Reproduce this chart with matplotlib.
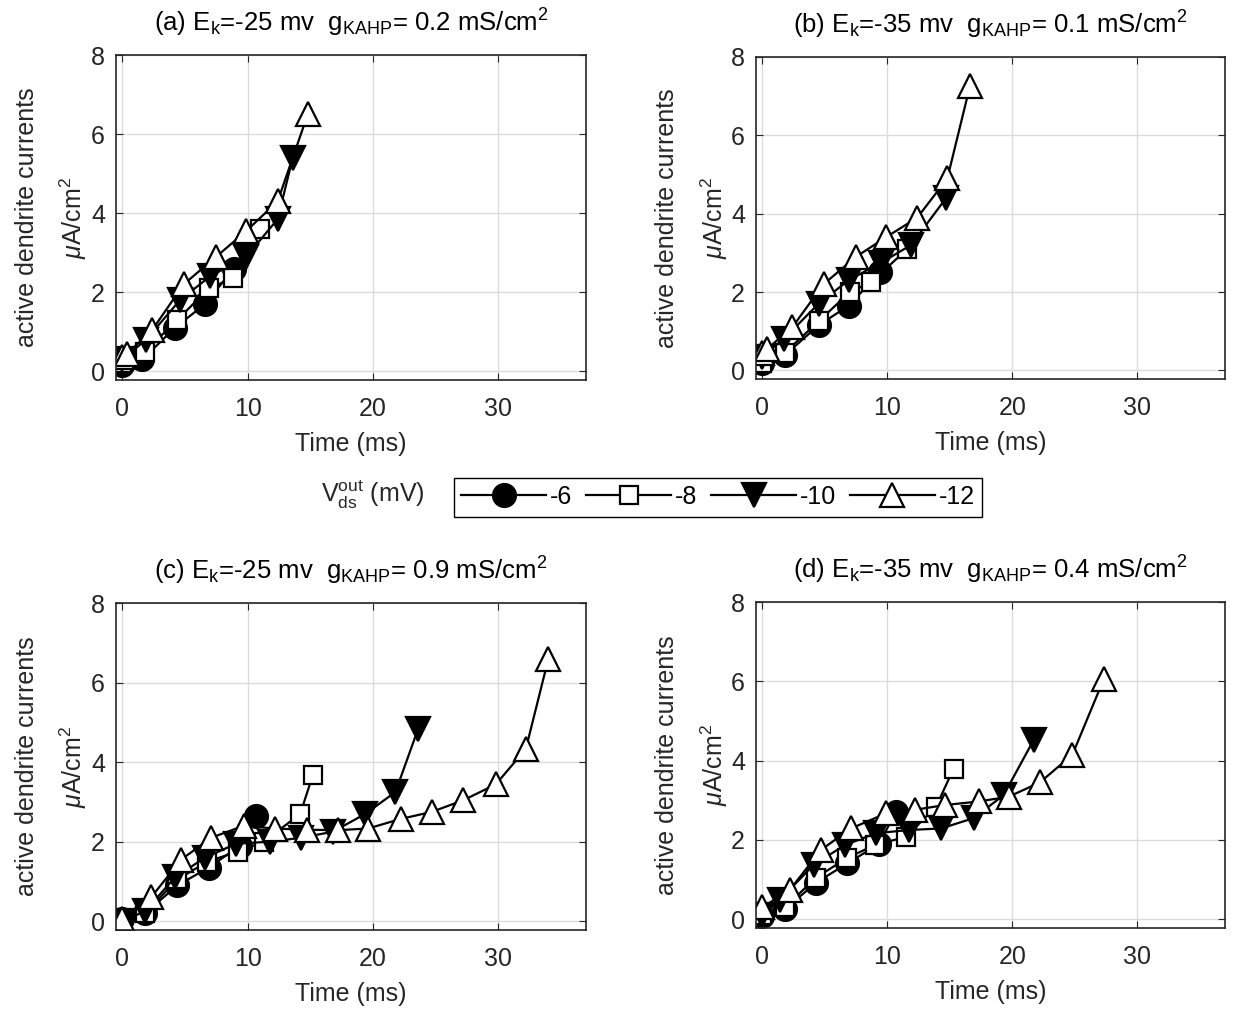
import numpy as np
import matplotlib.pyplot as plt

plt.rcParams['font.family'] = ['Liberation Sans', 'DejaVu Sans']
plt.rcParams['mathtext.fontset'] = 'custom'
plt.rcParams['mathtext.rm'] = 'Liberation Sans'
plt.rcParams['mathtext.it'] = 'Liberation Sans:italic'

# Vds_out levels (mV)
levels = ['-6', '-8', '-10', '-12']

# panel (a)  Ek=-25, gKAHP=0.2
a_t = [[0, 1.6, 4.2, 6.6, 8.9],
       [0, 1.8, 4.4, 6.9, 8.8, 11.0],
       [0, 1.9, 4.6, 7.0, 9.9, 12.4, 13.6],
       [0, 0.4, 2.4, 4.9, 7.5, 9.9, 12.4, 14.8]]
a_v = [[0.15, 0.3, 1.1, 1.7, 2.6],
       [0.2, 0.5, 1.3, 2.1, 2.35, 3.6],
       [0.3, 0.8, 1.8, 2.4, 2.9, 3.85, 5.4],
       [0.35, 0.45, 1.05, 2.2, 2.9, 3.55, 4.3, 6.5]]

# panel (b)  Ek=-35, gKAHP=0.1
b_t = [[0, 1.85, 4.5, 6.9, 9.4],
       [0, 1.8, 4.5, 7.0, 8.7, 11.6],
       [0, 1.7, 4.5, 6.9, 9.5, 11.9, 14.7],
       [0, 0.4, 2.4, 4.9, 7.5, 9.9, 12.4, 14.8, 16.6]]
b_v = [[0.2, 0.4, 1.15, 1.65, 2.5],
       [0.2, 0.45, 1.25, 2.0, 2.25, 3.1],
       [0.35, 0.8, 1.7, 2.3, 2.75, 3.2, 4.4],
       [0.45, 0.55, 1.1, 2.2, 2.9, 3.4, 3.9, 4.9, 7.25]]

# panel (c)  Ek=-25, gKAHP=0.9
c_t = [[0, 1.8, 4.4, 6.9, 9.4, 10.7],
       [0, 1.8, 4.4, 6.8, 9.2, 11.3, 14.2, 15.2],
       [0, 1.8, 4.2, 6.6, 9.1, 11.8, 14.3, 16.8, 19.4, 21.8, 23.6],
       [0, 2.3, 4.7, 7.1, 9.7, 12.2, 14.7, 17.2, 19.6, 22.2, 24.7, 27.2, 29.8, 32.2, 34.0]]
c_v = [[0.05, 0.2, 0.9, 1.35, 1.9, 2.65],
       [0.05, 0.2, 1.05, 1.5, 1.75, 2.0, 2.7, 3.67],
       [0.0, 0.25, 1.1, 1.6, 1.95, 2.0, 2.1, 2.25, 2.7, 3.25, 4.83],
       [0.05, 0.6, 1.55, 2.1, 2.4, 2.33, 2.3, 2.29, 2.33, 2.57, 2.75, 3.04, 3.44, 4.33, 6.6]]

# panel (d)  Ek=-35, gKAHP=0.4
d_t = [[0, 1.8, 4.3, 6.8, 9.3, 10.7],
       [0, 1.8, 4.3, 6.8, 9.0, 11.5, 13.9, 15.3],
       [0, 1.4, 4.1, 6.6, 9.1, 11.7, 14.3, 16.9, 19.3, 21.7],
       [0, 2.2, 4.7, 7.1, 9.9, 12.2, 14.6, 17.3, 19.7, 22.2, 24.8, 27.3]]
d_v = [[0.07, 0.25, 0.92, 1.41, 1.89, 2.71],
       [0.1, 0.3, 1.05, 1.55, 1.87, 2.08, 2.84, 3.8],
       [0.1, 0.49, 1.37, 1.87, 2.17, 2.25, 2.29, 2.55, 3.13, 4.52],
       [0.3, 0.74, 1.75, 2.29, 2.67, 2.76, 2.88, 2.97, 3.09, 3.45, 4.15, 6.05]]

titles = [r'(a) E$_\mathrm{k}$=-25 mv  g$_\mathrm{KAHP}$= 0.2 mS/cm$^2$',
          r'(b) E$_\mathrm{k}$=-35 mv  g$_\mathrm{KAHP}$= 0.1 mS/cm$^2$',
          r'(c) E$_\mathrm{k}$=-25 mv  g$_\mathrm{KAHP}$= 0.9 mS/cm$^2$',
          r'(d) E$_\mathrm{k}$=-35 mv  g$_\mathrm{KAHP}$= 0.4 mS/cm$^2$']

markers = ['o', 's', 'v', '^']
faces = ['black', 'white', 'black', 'white']
sizes = [16.5, 13.5, 17, 17]

W, H = 1250, 1017
fig = plt.figure(figsize=(W / 100, H / 100), dpi=100)

# boxes in pixels: left, top, right, bottom
boxes = [(116, 55, 586, 380), (756, 57, 1225, 379),
         (116, 603, 586, 930), (756, 602, 1225, 928)]
panels = [(a_t, a_v), (b_t, b_v), (c_t, c_v), (d_t, d_v)]
gray = '#262626'

for k in range(4):
    l, t, r, b = boxes[k]
    ax = fig.add_axes([l / W, 1 - b / H, (r - l) / W, (b - t) / H])
    ts, vs = panels[k]
    for i in range(4):
        ax.plot(ts[i], vs[i], color='black', lw=1.6, marker=markers[i],
                markersize=sizes[i], markerfacecolor=faces[i],
                markeredgecolor='black', markeredgewidth=1.6, label=levels[i])
    ax.set_xlim(-0.5, 37)
    ax.set_ylim(-0.22, 8)
    ax.set_xticks([0, 10, 20, 30])
    ax.set_yticks([0, 2, 4, 6, 8])
    ax.grid(True, color='#dcdcdc', lw=1)
    ax.set_axisbelow(True)
    ax.tick_params(direction='in', top=True, right=True, labelsize=18,
                   colors=gray, length=5)
    ax.tick_params(axis='x', pad=12)
    ax.tick_params(axis='y', pad=8)
    for s in ax.spines.values():
        s.set_color(gray)
        s.set_linewidth(1.2)
    ax.set_title(titles[k], fontsize=18.5, pad=17)
    ax.set_xlabel('Time (ms)', fontsize=18, color=gray, labelpad=8)
    ax.set_ylabel('active dendrite currents\n$\\mu$A/cm$^2$', fontsize=18,
                  color=gray, labelpad=1, linespacing=1.8)
    if k == 0:
        handles, labs = ax.get_legend_handles_labels()

leg = fig.legend(handles, labs, ncol=4, loc='center',
                 bbox_to_anchor=(718 / W, 1 - 497 / H), fontsize=18,
                 handlelength=3.4, handletextpad=0.15, columnspacing=0.55,
                 fancybox=False, edgecolor='black', framealpha=1,
                 borderpad=0.3)
leg.get_frame().set_linewidth(1.0)
fig.text(425 / W, 1 - 495 / H, r'V$_\mathrm{ds}^\mathrm{out}$ (mV)', fontsize=18,
         ha='right', va='center', color=gray)

fig.savefig('out.png', dpi=100)
